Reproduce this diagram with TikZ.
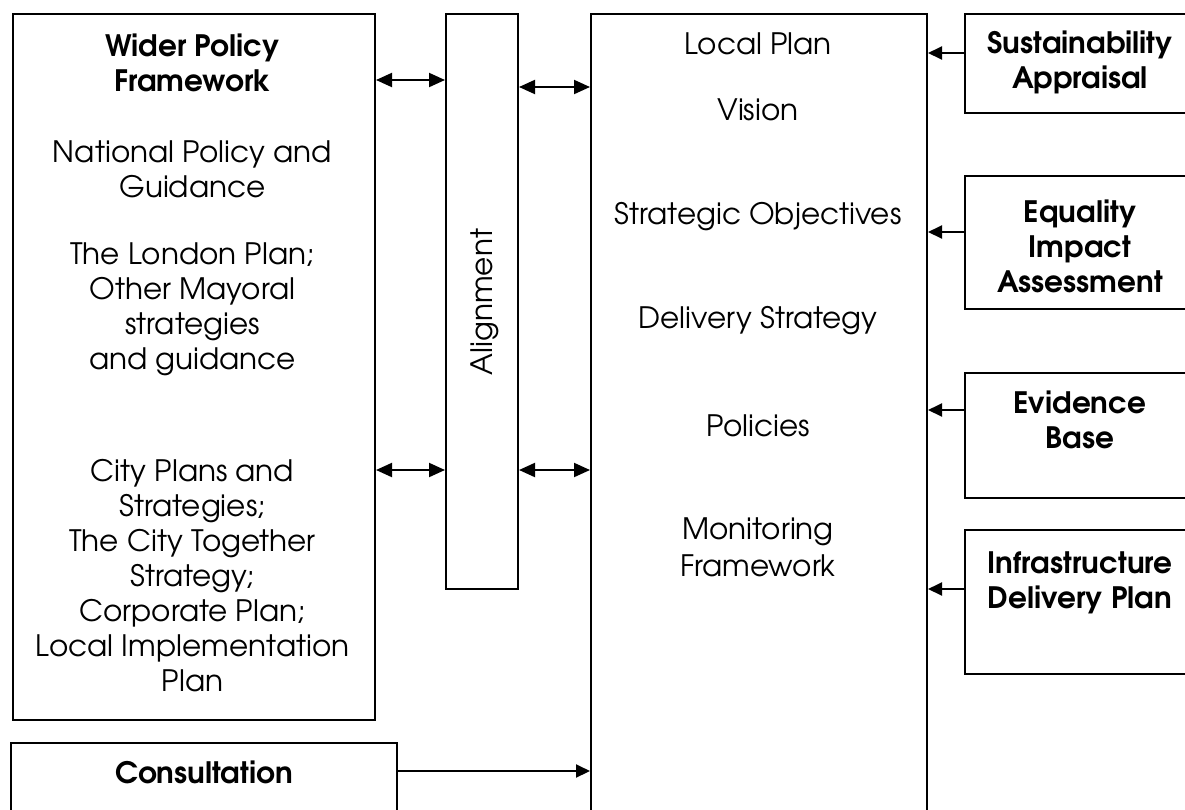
\documentclass[tikz,border=0pt]{standalone}
\usepackage{fontspec}
\setmainfont{TeX Gyre Adventor}
\usetikzlibrary{arrows.meta}
\newcommand{\mysize}{\fontsize{29.5}{35}\selectfont}
\newcommand{\lpsize}{\fontsize{29.5}{37}\selectfont}
\tikzset{
  box/.style={draw, line width=2pt, anchor=north west, inner sep=0pt},
  txt/.style={align=center, font=\mysize, inner sep=0pt},
  lptxt/.style={align=center, font=\lpsize, inner sep=0pt},
  btxt/.style={align=center, font=\mysize\bfseries, inner sep=0pt},
  dbl/.style={line width=2pt, {Triangle[length=16pt,width=14pt]}-{Triangle[length=16pt,width=14pt]}},
  sgl/.style={line width=2pt, -{Triangle[length=14pt,width=13pt]}},
}
\begin{document}
\begin{tikzpicture}[x=1pt,y=-1pt]
\useasboundingbox (0,0) rectangle (1185,809);
\clip (0,0) rectangle (1185,809);
% boxes
\node[box, minimum width=362pt, minimum height=706pt] (wpf) at (12,13) {};
\node[box, minimum width=72pt, minimum height=575pt] (align) at (445,13) {};
\node[box, minimum width=336pt, minimum height=830pt] (lp) at (590,13) {};
\node[box, minimum width=260pt, minimum height=99pt] (sa) at (964,13) {};
\node[box, minimum width=260pt, minimum height=133pt] (eqia) at (964,175) {};
\node[box, minimum width=260pt, minimum height=125pt] (eb) at (964,372) {};
\node[box, minimum width=260pt, minimum height=144pt] (idp) at (964,529) {};
\node[box, minimum width=386pt, minimum height=100pt] (cons) at (10,742) {};
% left texts
\node[btxt] (t1) at (192.5,62.5) {Wider Policy\\Framework};
\node[txt] (t2) at (192.5,169.5) {National Policy and\\Guidance};
\node[txt] (t3) at (192.5,309.5) {The London Plan;\\Other Mayoral\\strategies\\and guidance};
\node[txt] (t4) at (192.5,576) {City Plans and\\Strategies;\\The City Together\\Strategy;\\Corporate Plan;\\Local Implementation\\Plan};
% alignment
\node[txt, rotate=90] (al) at (485,302) {Alignment};
% local plan
\node[lptxt] (l1) at (758,44) {Local Plan};
\node[lptxt] (l2) at (758,110) {Vision};
\node[lptxt] (l3) at (758,217) {Strategic Objectives};
\node[lptxt] (l4) at (758,321) {Delivery Strategy};
\node[lptxt] (l5) at (758,426) {Policies};
\node[lptxt] (l6) at (758,547.5) {Monitoring\\Framework};
% right
\node[btxt] (r1) at (1080,62) {Sustainability\\Appraisal};
\node[btxt] (r2) at (1080,246) {Equality\\Impact\\Assessment};
\node[btxt] (r3) at (1080,420) {Evidence\\Base};
\node[btxt] (r4) at (1080,582.5) {Infrastructure\\Delivery Plan};
\node[btxt] (c1) at (204,772) {Consultation};
% arrows
\draw[dbl] (wpf.east |- 0,80) -- (align.west |- 0,80);
\draw[dbl] (wpf.east |- 0,470) -- (align.west |- 0,470);
\draw[dbl] (align.east |- 0,87) -- (lp.west |- 0,87);
\draw[dbl] (align.east |- 0,470) -- (lp.west |- 0,470);
\draw[sgl] (sa.west |- 0,53) -- (lp.east |- 0,53);
\draw[sgl] (eqia.west |- 0,232) -- (lp.east |- 0,232);
\draw[sgl] (eb.west |- 0,410) -- (lp.east |- 0,410);
\draw[sgl] (idp.west |- 0,589) -- (lp.east |- 0,589);
\draw[sgl] (cons.east |- 0,771) -- (lp.west |- 0,771);
\end{tikzpicture}
\end{document}
